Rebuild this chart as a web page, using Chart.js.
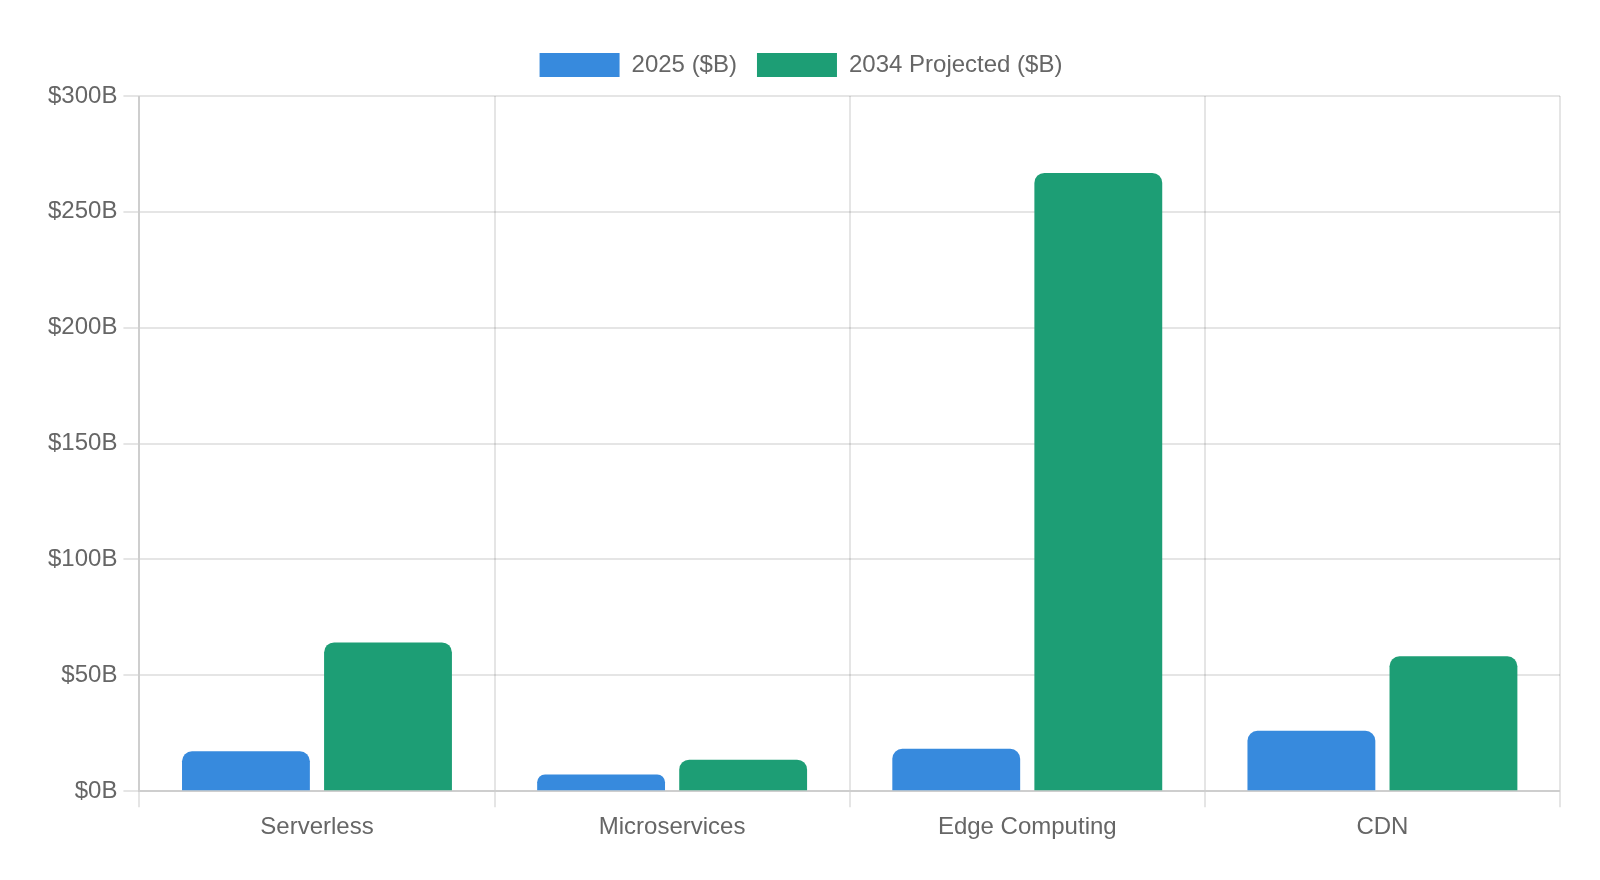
<!DOCTYPE html>
<html>
<head>
<meta charset="utf-8">
<title>Cloud market chart</title>
<script src="https://cdn.jsdelivr.net/npm/chart.js@4.4.1/dist/chart.umd.min.js"></script>
<style>
  html, body { margin: 0; padding: 0; background: #fff; }
  #wrap { width: 1600px; height: 880px; position: relative; }
</style>
</head>
<body>
<div id="wrap"><canvas id="marketChart"></canvas></div>
<script>
  // data
  const categories = ['Serverless', 'Microservices', 'Edge Computing', 'CDN'];
  const values2025 = [17.2, 7.2, 18.3, 26.1];
  const values2034 = [64.2, 13.6, 266.8, 58.2];
  const yTicks = [0, 50, 100, 150, 200, 250, 300];

  Chart.defaults.font.family = '"Liberation Sans", Arial, Helvetica, sans-serif';
  Chart.defaults.font.size = 24;
  Chart.defaults.color = '#666';

  // a bit more room under the legend
  const legendSpacing = {
    id: 'legendSpacing',
    beforeInit(chart) {
      const fit = chart.legend.fit;
      chart.legend.fit = function () {
        fit.bind(chart.legend)();
        this.height += 9;
      };
    }
  };

  const ctx = document.getElementById('marketChart').getContext('2d');
  const chart = new Chart(ctx, {
    type: 'bar',
    data: {
      labels: categories,
      datasets: [{
        label: '2025 ($B)',
        data: values2025,
        backgroundColor: '#378ADD',
        borderRadius: 10,
        borderSkipped: 'bottom'
      }, {
        label: '2034 Projected ($B)',
        data: values2034,
        backgroundColor: '#1D9E75',
        borderRadius: 10,
        borderSkipped: 'bottom'
      }]
    },
    plugins: [legendSpacing],
    options: {
      responsive: true,
      maintainAspectRatio: false,
      animation: false,
      layout: {
        padding: { top: 33, left: 42, right: 40, bottom: 32 }
      },
      plugins: {
        legend: {
          labels: {
            boxWidth: 80,
            boxHeight: 24,
            padding: 20
          }
        },
        tooltip: { enabled: false }
      },
      scales: {
        x: {
          grid: { lineWidth: 2, tickLength: 16, color: 'rgba(0,0,0,0.1)' },
          border: { width: 2, color: 'rgba(0,0,0,0.1)' },
          ticks: { padding: 6 }
        },
        y: {
          min: yTicks[0],
          max: yTicks[yTicks.length - 1],
          grid: { lineWidth: 2, tickLength: 16, color: 'rgba(0,0,0,0.1)' },
          border: { width: 2, color: 'rgba(0,0,0,0.1)' },
          ticks: {
            stepSize: yTicks[1] - yTicks[0],
            padding: 6,
            callback: function (val) {
              return '$' + val + 'B';
            }
          }
        }
      }
    }
  });
</script>
</body>
</html>
